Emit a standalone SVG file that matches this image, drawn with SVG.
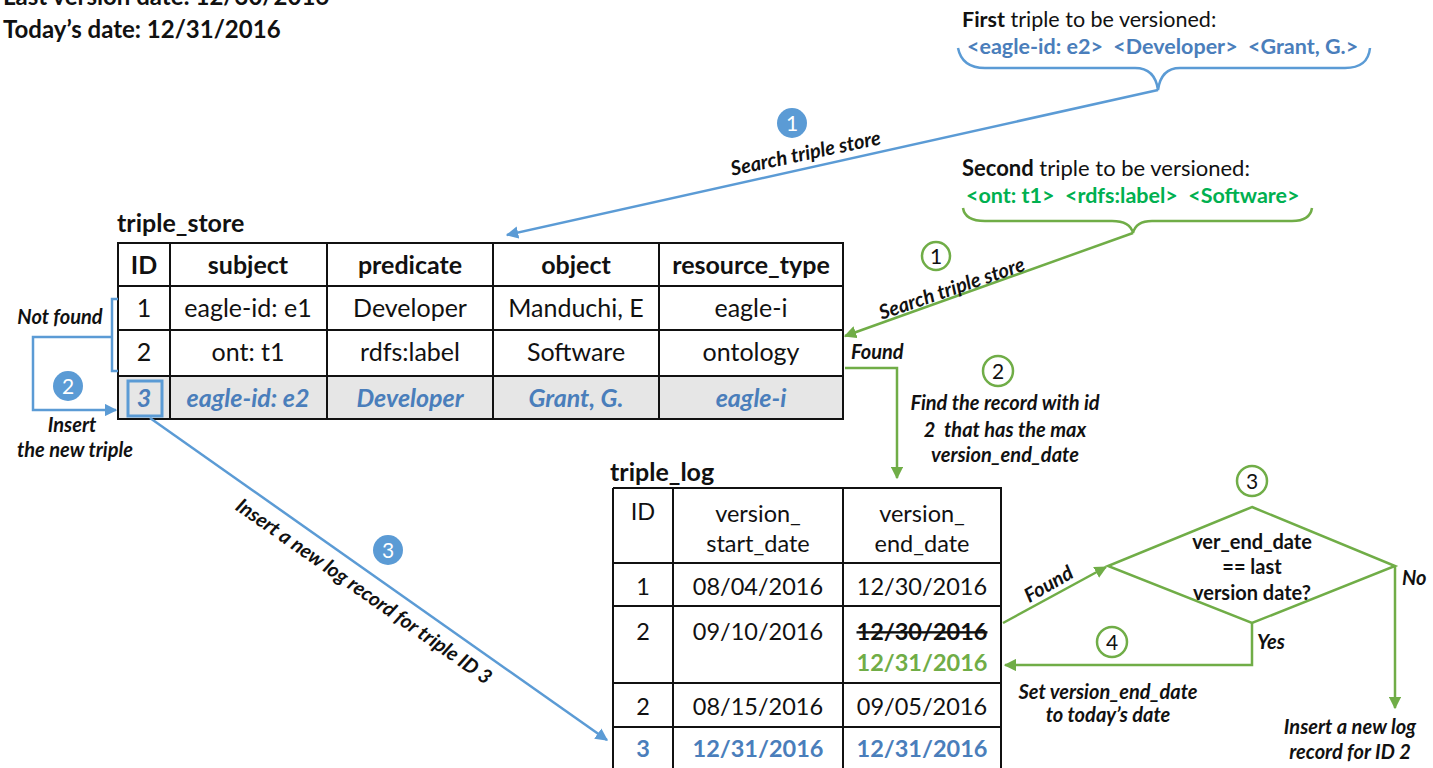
<svg xmlns="http://www.w3.org/2000/svg" width="1433" height="768" viewBox="0 0 1433 768">
<defs>
<marker id="ab" viewBox="0 0 10 10" refX="9" refY="5" markerWidth="5" markerHeight="5" orient="auto" markerUnits="strokeWidth"><path d="M0,0 L10,5 L0,10 z" fill="#5B9BD5"/></marker>
<marker id="ag" viewBox="0 0 10 10" refX="9" refY="5" markerWidth="5" markerHeight="5" orient="auto" markerUnits="strokeWidth"><path d="M0,0 L10,5 L0,10 z" fill="#70AD47"/></marker>
</defs>
<style>
text{font-family:Lato,"Liberation Sans",sans-serif;fill:#111}
.t{font-size:25px;text-anchor:middle}
.h{font-size:25px;font-weight:bold;text-anchor:middle}
.t2{font-size:23.5px;text-anchor:middle}
.h2{font-size:23.5px;font-weight:bold;text-anchor:middle}
.bl{fill:#4A7EBB;font-weight:bold;font-style:italic}
.ti{font-size:25px;font-weight:bold}
.lab{font-size:20px;font-weight:bold;font-style:italic}
.lab2{font-size:20px;font-weight:bold;font-style:italic;text-anchor:middle}
.dt{font-size:20px;font-weight:bold;text-anchor:middle}
.grid{stroke:#111;stroke-width:2;fill:none}
.lb{stroke:#5B9BD5;stroke-width:2.5;fill:none}
.lg{stroke:#70AD47;stroke-width:2.5;fill:none}
.cb{fill:#5B9BD5}
.cg{fill:#fff;stroke:#70AD47;stroke-width:2.5}
.cn{font-size:21px;text-anchor:middle}
.cnw{font-size:21px;text-anchor:middle;fill:#fff}
</style>
<rect width="1433" height="768" fill="#fff"/>

<g id="dates">
<text x="3" y="5" font-size="24" font-weight="bold">Last version date: 12/30/2016</text>
<text x="3" y="38" font-size="24" font-weight="bold">Today’s date: 12/31/2016</text>
</g>

<g id="first-triple">
<text x="962" y="27" font-size="21.5"><tspan font-weight="bold">First</tspan> triple to be versioned:</text>
<text x="967" y="54" font-size="21.5" font-weight="bold" style="fill:#4A7EBB" xml:space="preserve">&lt;eagle-id: e2&gt;  &lt;Developer&gt;  &lt;Grant, G.&gt;</text>
<path class="lb" d="M958,48 Q962,68 985,68 L1135,68 Q1155,68 1158,90 Q1161,68 1180,68 L1345,68 Q1368,68 1370,48"/>
</g>

<g id="second-triple">
<text x="962" y="176" font-size="22"><tspan font-weight="bold">Second</tspan> triple to be versioned:</text>
<text x="966" y="203" font-size="21.5" font-weight="bold" style="fill:#00B050" xml:space="preserve">&lt;ont: t1&gt;  &lt;rdfs:label&gt;  &lt;Software&gt;</text>
<path class="lg" d="M963,208 Q965,221 985,221 L1112,221 Q1130,221 1133,233 Q1136,221 1152,221 L1292,221 Q1310,221 1312,208"/>
</g>

<g id="triple_store">
<text x="117" y="232" class="ti">triple_store</text>
<rect x="118" y="376" width="725" height="43" fill="#E6E6E6"/>
<rect x="118" y="243" width="725" height="176" class="grid"/>
<path class="grid" d="M118,286 H843 M118,330 H843 M118,376 H843 M170,243 V419 M327,243 V419 M493,243 V419 M659,243 V419"/>
<text x="144" y="274" class="h">ID</text>
<text x="248" y="274" class="h">subject</text>
<text x="410" y="274" class="h">predicate</text>
<text x="576" y="274" class="h">object</text>
<text x="751" y="274" class="h">resource_type</text>
<text x="144" y="317" class="t">1</text>
<text x="248" y="317" class="t">eagle-id: e1</text>
<text x="410" y="317" class="t">Developer</text>
<text x="576" y="317" class="t">Manduchi, E</text>
<text x="751" y="317" class="t">eagle-i</text>
<text x="144" y="361" class="t">2</text>
<text x="248" y="361" class="t">ont: t1</text>
<text x="410" y="361" class="t">rdfs:label</text>
<text x="576" y="361" class="t">Software</text>
<text x="751" y="361" class="t">ontology</text>
<text x="144" y="407" class="t bl">3</text>
<text x="248" y="407" class="t bl">eagle-id: e2</text>
<text x="410" y="407" class="t bl">Developer</text>
<text x="576" y="407" class="t bl">Grant, G.</text>
<text x="751" y="407" class="t bl">eagle-i</text>
<rect x="128" y="381" width="34" height="35" fill="none" stroke="#5B9BD5" stroke-width="3"/>
</g>

<g id="triple_log">
<text x="610" y="481" class="ti">triple_log</text>
<path class="grid" d="M613,488 H1002 M613,563 H1002 M613,606 H1002 M613,683 H1002 M613,727 H1002 M613,488 V768 M673,488 V768 M843,488 V768 M1001,488 V768"/>
<text x="643" y="520" class="t2">ID</text>
<text x="758" y="522" class="t2">version_</text>
<text x="758" y="552" class="t2">start_date</text>
<text x="922" y="522" class="t2">version_</text>
<text x="922" y="552" class="t2">end_date</text>
<text x="643" y="595" class="t2">1</text>
<text x="758" y="595" class="t2">08/04/2016</text>
<text x="922" y="595" class="t2">12/30/2016</text>
<text x="643" y="640" class="t2">2</text>
<text x="758" y="640" class="t2">09/10/2016</text>
<text x="922" y="640" class="h2" text-decoration="line-through">12/30/2016</text>
<text x="922" y="671" class="h2" style="fill:#70AD47">12/31/2016</text>
<text x="643" y="715" class="t2">2</text>
<text x="758" y="715" class="t2">08/15/2016</text>
<text x="922" y="715" class="t2">09/05/2016</text>
<text x="643" y="757" class="h2" style="fill:#4A7EBB">3</text>
<text x="758" y="757" class="h2" style="fill:#4A7EBB">12/31/2016</text>
<text x="922" y="757" class="h2" style="fill:#4A7EBB">12/31/2016</text>
</g>

<g id="decision">
<polygon points="1252,507 1395,566 1252,623 1108,566" class="lg"/>
<text x="1252" y="549" class="dt">ver_end_date</text>
<text x="1252" y="574" class="dt">== last</text>
<text x="1252" y="600" class="dt">version date?</text>
</g>

<g id="connectors">
<line x1="1158" y1="90" x2="507" y2="235" class="lb" marker-end="url(#ab)"/>
<circle cx="792" cy="123" r="15" class="cb"/>
<text x="792" y="131" class="cnw">1</text>
<text transform="translate(807,160) rotate(-12)" class="lab2">Search triple store</text>
<path class="lb" d="M118,299 H112 V371 H118 M112,337 H33 V410 H116" marker-end="url(#ab)"/>
<text x="60" y="324" class="lab2">Not found</text>
<circle cx="68" cy="386" r="15" class="cb"/>
<text x="68" y="394" class="cnw">2</text>
<text x="72" y="432" class="lab2">Insert</text>
<text x="75" y="457" class="lab2">the new triple</text>
<line x1="150" y1="418" x2="607" y2="740" class="lb" marker-end="url(#ab)"/>
<circle cx="388" cy="550" r="15" class="cb"/>
<text x="388" y="558" class="cnw">3</text>
<text transform="translate(360,597) rotate(35)" class="lab2">Insert a new log record for triple ID 3</text>
<line x1="1133" y1="233" x2="845" y2="336" class="lg" marker-end="url(#ag)"/>
<circle cx="936" cy="256" r="14" class="cg"/>
<text x="936" y="264" class="cn">1</text>
<text transform="translate(954,295) rotate(-19)" class="lab2">Search triple store</text>
<text x="851" y="359" class="lab">Found</text>
<path class="lg" d="M845,368 H897 V478" marker-end="url(#ag)"/>
<circle cx="998" cy="371" r="15" class="cg"/>
<text x="998" y="379" class="cn">2</text>
<text x="1005" y="410" class="lab2">Find the record with id</text>
<text x="1005" y="437" class="lab2" xml:space="preserve">2  that has the max</text>
<text x="1005" y="462" class="lab2">version_end_date</text>
<circle cx="1252" cy="481" r="15" class="cg"/>
<text x="1252" y="489" class="cn">3</text>
<line x1="1003" y1="623" x2="1106" y2="567" class="lg" marker-end="url(#ag)"/>
<text transform="translate(1052,590) rotate(-30)" class="lab2">Found</text>
<path class="lg" d="M1252,623 V665 H1005" marker-end="url(#ag)"/>
<text x="1257" y="649" class="lab">Yes</text>
<circle cx="1112" cy="642" r="15" class="cg"/>
<text x="1112" y="650" class="cn">4</text>
<text x="1108" y="699" class="lab2">Set version_end_date</text>
<text x="1108" y="722" class="lab2">to today’s date</text>
<path class="lg" d="M1395,566 V708" marker-end="url(#ag)"/>
<text x="1402" y="585" class="lab">No</text>
<text x="1350" y="734" class="lab2">Insert a new log</text>
<text x="1350" y="759" class="lab2">record for ID 2</text>
</g>
</svg>
